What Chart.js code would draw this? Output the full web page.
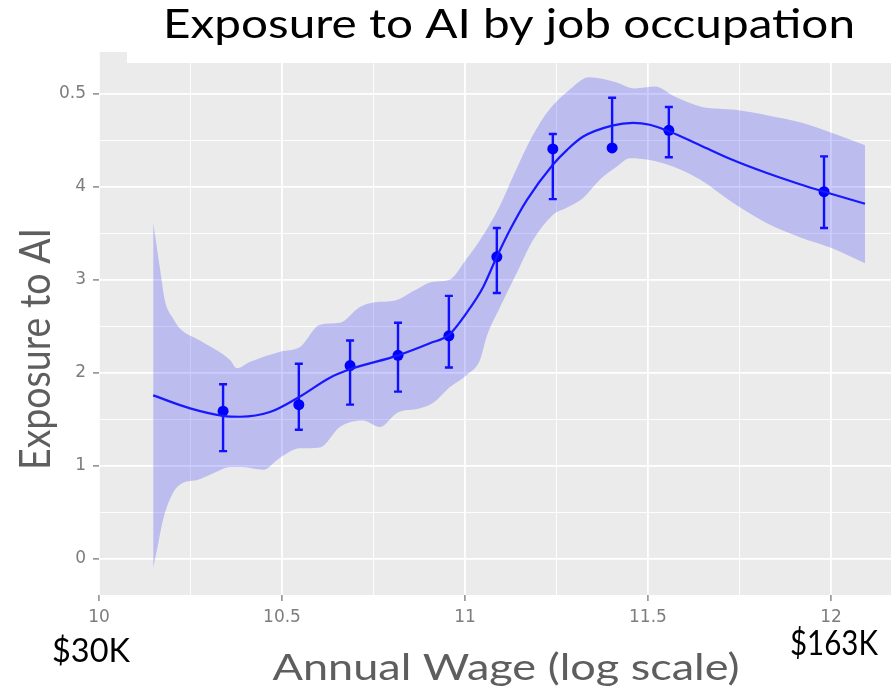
<!DOCTYPE html>
<html>
<head>
<meta charset="utf-8">
<script src="https://cdn.jsdelivr.net/npm/chart.js@4.4.0/dist/chart.umd.min.js"></script>
<style>
  body { margin: 0; background: #ffffff; }
</style>
</head>
<body>
<canvas id="exposure-chart" width="891" height="692"></canvas>
<script>
// log wage (x) and exposure (y)
const pointX = [10.339, 10.546, 10.686, 10.817, 10.956, 11.087, 11.240, 11.402, 11.557, 11.981];
const pointY = [1.59, 1.66, 2.08, 2.19, 2.40, 3.25, 4.41, 4.42, 4.61, 3.95];
const errHigh = [1.88, 2.10, 2.35, 2.54, 2.83, 3.56, 4.57, 4.96, 4.86, 4.33];
const errLow = [1.16, 1.39, 1.66, 1.80, 2.06, 2.86, 3.87, 4.42, 4.32, 3.56];

const fitX = [10.148, 10.249, 10.339, 10.385, 10.467, 10.546, 10.631, 10.686, 10.817, 10.904, 10.956, 11.005, 11.049, 11.087, 11.123, 11.169, 11.240, 11.279, 11.322, 11.402, 11.459, 11.505, 11.557, 11.642, 11.732, 11.825, 11.915, 11.981, 12.093];
const fitY = [1.76, 1.62, 1.54, 1.53, 1.58, 1.74, 1.95, 2.04, 2.19, 2.32, 2.41, 2.65, 2.92, 3.25, 3.54, 3.86, 4.24, 4.40, 4.54, 4.66, 4.69, 4.67, 4.60, 4.45, 4.29, 4.15, 4.03, 3.95, 3.82];

const upperX = [10.148, 10.167, 10.180, 10.202, 10.221, 10.276, 10.358, 10.377, 10.413, 10.495, 10.549, 10.604, 10.658, 10.713, 10.754, 10.809, 10.863, 10.910, 10.956, 11.003, 11.046, 11.093, 11.139, 11.183, 11.230, 11.284, 11.339, 11.410, 11.464, 11.519, 11.574, 11.648, 11.738, 11.828, 11.921, 12.093];
const upperY = [3.62, 3.11, 2.78, 2.59, 2.48, 2.35, 2.14, 2.05, 2.12, 2.23, 2.28, 2.52, 2.54, 2.71, 2.76, 2.78, 2.89, 2.98, 3.00, 3.22, 3.46, 3.78, 4.18, 4.54, 4.83, 5.04, 5.18, 5.13, 5.06, 5.08, 4.97, 4.86, 4.83, 4.77, 4.69, 4.45];

const lowerX = [10.148, 10.161, 10.175, 10.202, 10.230, 10.268, 10.311, 10.358, 10.393, 10.448, 10.495, 10.549, 10.604, 10.658, 10.721, 10.768, 10.814, 10.877, 10.913, 10.959, 11.005, 11.041, 11.060, 11.096, 11.142, 11.186, 11.240, 11.279, 11.322, 11.369, 11.415, 11.451, 11.505, 11.568, 11.642, 11.732, 11.825, 11.915, 12.005, 12.093];
const lowerY = [-0.10, 0.15, 0.42, 0.71, 0.82, 0.85, 0.92, 0.99, 0.99, 0.96, 1.09, 1.19, 1.20, 1.42, 1.49, 1.42, 1.57, 1.62, 1.68, 1.85, 1.98, 2.14, 2.40, 2.71, 3.08, 3.43, 3.70, 3.78, 3.88, 4.08, 4.22, 4.31, 4.29, 4.22, 4.08, 3.83, 3.61, 3.46, 3.34, 3.18];

const xTickValues = [10, 10.25, 10.5, 10.75, 11, 11.25, 11.5, 11.75, 12];
const xTickLabels = ['10', '', '10.5', '', '11', '', '11.5', '', '12'];
const yTickValues = [0, 0.5, 1, 1.5, 2, 2.5, 3, 3.5, 4, 4.5, 5];
const yTickLabels = ['0', '', '1', '', '2', '', '3', '', '4', '', '0.5'];

function toPoints(xs, ys) {
    return xs.map((x, i) => ({ x: x, y: ys[i] }));
}

// draws text squeezed/stretched to a given width (reference uses a wide geometric font)
function fitText(ctx, text, x, y, size, color, width, rotate) {
    ctx.save();
    ctx.font = size + 'px Lato';
    ctx.fillStyle = color;
    ctx.textAlign = 'center';
    ctx.textBaseline = 'alphabetic';
    ctx.translate(x, y);
    if (rotate) ctx.rotate(-Math.PI / 2);
    const w = ctx.measureText(text).width;
    ctx.scale(width / w, 1);
    ctx.fillText(text, 0, 0);
    ctx.restore();
}

const panelPlugin = {
    id: 'panel',
    beforeDraw(chart) {
        const a = chart.chartArea;
        const c = chart.ctx;
        c.save();
        c.fillStyle = '#ebebeb';
        c.fillRect(a.left, a.top, a.right - a.left, a.bottom - a.top);
        c.restore();
    },
    beforeDatasetsDraw(chart) {
        // white title box sits over the top of the panel
        const c = chart.ctx;
        c.save();
        c.fillStyle = '#ffffff';
        c.fillRect(127, 0, chart.width - 127, 63);
        c.restore();
    },
    beforeDatasetDraw(chart, args) {
        if (args.index !== 3) return;
        const xs = chart.scales.x;
        const ys = chart.scales.y;
        const c = chart.ctx;
        c.save();
        c.strokeStyle = '#1414ff';
        c.lineWidth = 2.4;
        for (let i in pointX) {
            const px = xs.getPixelForValue(pointX[i]);
            const top = ys.getPixelForValue(errHigh[i]);
            const bot = ys.getPixelForValue(errLow[i]);
            c.beginPath();
            c.moveTo(px, top);
            c.lineTo(px, bot);
            c.moveTo(px - 4, top);
            c.lineTo(px + 4, top);
            c.moveTo(px - 4, bot);
            c.lineTo(px + 4, bot);
            c.stroke();
        }
        c.restore();
    },
    afterDraw(chart) {
        const c = chart.ctx;
        fitText(c, 'Exposure to AI by job occupation', 509, 38, 40, '#000000', 692, false);
        fitText(c, 'Exposure to AI', 50, 349, 43, '#5e5e5e', 242, true);
        fitText(c, 'Annual Wage (log scale)', 506, 680, 36, '#5e5e5e', 467, false);
        fitText(c, '$30K', 91, 662, 33, '#000000', 78, false);
        fitText(c, '$163K', 834, 655, 35, '#000000', 88, false);
    }
};

const ctx = document.getElementById('exposure-chart');

new Chart(ctx, {
    type: 'scatter',
    data: {
        datasets: [{
            type: 'line',
            label: 'upper',
            data: toPoints(upperX, upperY),
            borderColor: 'rgba(0,0,0,0)',
            borderWidth: 0,
            pointRadius: 0,
            cubicInterpolationMode: 'monotone',
            fill: '+1',
            backgroundColor: 'rgba(0,0,255,0.2)'
        },
        {
            type: 'line',
            label: 'lower',
            data: toPoints(lowerX, lowerY),
            borderColor: 'rgba(0,0,0,0)',
            borderWidth: 0,
            pointRadius: 0,
            cubicInterpolationMode: 'monotone',
            fill: false
        },
        {
            type: 'line',
            label: 'fit',
            data: toPoints(fitX, fitY),
            borderColor: '#1f1fff',
            borderWidth: 2.2,
            pointRadius: 0,
            cubicInterpolationMode: 'monotone',
            fill: false
        },
        {
            type: 'scatter',
            label: 'mean',
            data: toPoints(pointX, pointY),
            pointRadius: 5.5,
            pointHoverRadius: 5.5,
            backgroundColor: '#0000ff',
            borderWidth: 0
        }]
    },
    options: {
        responsive: false,
        animation: false,
        layout: { autoPadding: false, padding: { top: 52, left: 0, right: 0, bottom: 0 } },
        plugins: {
            legend: { display: false },
            tooltip: { enabled: false },
            title: { display: false }
        },
        scales: {
            x: {
                type: 'linear',
                min: 10,
                max: 12.164,
                afterFit: function(scale) {
                    scale.height = 97;
                    scale.paddingLeft = 0;
                    scale.paddingRight = 0;
                },
                afterBuildTicks: function(scale) {
                    scale.ticks = xTickValues.map(v => ({ value: v }));
                },
                ticks: {
                    autoSkip: false,
                    maxRotation: 0,
                    padding: 6,
                    color: '#7d7d7d',
                    font: { family: 'DejaVu Sans', size: 17 },
                    callback: function(value, index) { return xTickLabels[index]; }
                },
                grid: {
                    color: '#ffffff',
                    lineWidth: c => xTickLabels[c.index] ? 1.8 : 0.9,
                    tickColor: c => xTickLabels[c.index] ? '#8a8a8a' : 'rgba(0,0,0,0)',
                    tickLength: 6,
                    tickWidth: 1.5
                },
                border: { display: false }
            },
            y: {
                type: 'linear',
                min: -0.387,
                max: 5.452,
                afterFit: function(scale) { scale.width = 99; },
                afterBuildTicks: function(scale) {
                    scale.ticks = yTickValues.map(v => ({ value: v }));
                },
                ticks: {
                    autoSkip: false,
                    padding: 7,
                    color: '#7d7d7d',
                    font: { family: 'DejaVu Sans', size: 17 },
                    callback: function(value, index) { return yTickLabels[index]; }
                },
                grid: {
                    color: '#ffffff',
                    lineWidth: c => yTickLabels[c.index] ? 1.8 : 0.9,
                    tickColor: c => yTickLabels[c.index] ? '#8a8a8a' : 'rgba(0,0,0,0)',
                    tickLength: 6,
                    tickWidth: 1.5
                },
                border: { display: false }
            }
        }
    },
    plugins: [panelPlugin]
});
</script>
</body>
</html>
